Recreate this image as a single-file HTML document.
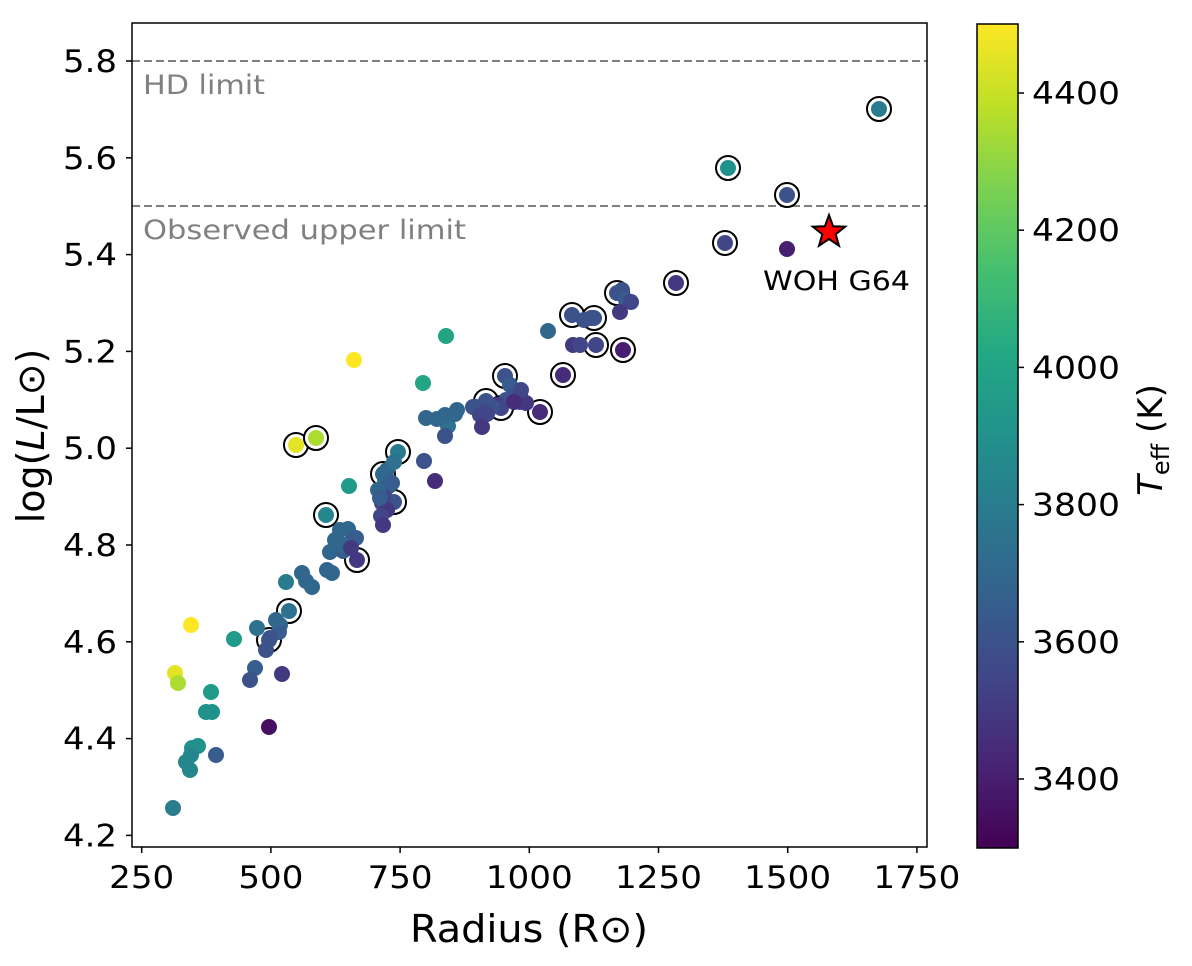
<!DOCTYPE html>
<html><head><meta charset="utf-8"><style>
body{margin:0;background:#fff;}
svg{display:block;font-family:"DejaVu Sans","Liberation Sans",sans-serif;}
</style></head><body>
<svg id="s" width="1192" height="966" viewBox="0 0 1192 966" xmlns="http://www.w3.org/2000/svg">
<defs>
<linearGradient id="vir" x1="0" y1="1" x2="0" y2="0">
<stop offset="0" stop-color="#440154"/><stop offset="0.1" stop-color="#482475"/><stop offset="0.2" stop-color="#414487"/><stop offset="0.3" stop-color="#355f8d"/><stop offset="0.4" stop-color="#2a788e"/><stop offset="0.5" stop-color="#21918c"/><stop offset="0.6" stop-color="#22a884"/><stop offset="0.7" stop-color="#44bf70"/><stop offset="0.8" stop-color="#7ad151"/><stop offset="0.9" stop-color="#bddf26"/><stop offset="1" stop-color="#fde725"/>
</linearGradient>
</defs>
<line x1="132" y1="61" x2="927" y2="61" stroke="#808080" stroke-width="2" stroke-dasharray="8,4"/>
<line x1="132" y1="206" x2="927" y2="206" stroke="#808080" stroke-width="2" stroke-dasharray="8,4"/>
<text x="143" y="94" font-size="27" fill="#808080" textLength="122" lengthAdjust="spacingAndGlyphs">HD limit</text>
<text x="143" y="239" font-size="27" fill="#808080" textLength="323" lengthAdjust="spacingAndGlyphs">Observed upper limit</text>
<g id="pts"></g>
<polygon id="star" fill="#ff0000" stroke="#000" stroke-width="2"/>
<text x="763" y="290" font-size="27" fill="#000" textLength="147" lengthAdjust="spacingAndGlyphs">WOH G64</text>
<rect x="132" y="23" width="795" height="824" fill="none" stroke="#000" stroke-width="1.5"/>
<g font-size="31" fill="#000" text-anchor="end" id="yt"></g>
<g font-size="31" fill="#000" text-anchor="middle" id="xt"></g>
<text x="410" y="942" font-size="38" textLength="238" lengthAdjust="spacingAndGlyphs">Radius (R⊙)</text>
<text transform="translate(44,436) rotate(-90)" font-size="38" text-anchor="middle">log(<tspan font-style="italic">L</tspan>/L⊙)</text>
<rect x="977" y="24" width="41" height="824" fill="url(#vir)" stroke="#000" stroke-width="1.5"/>
<g font-size="31" id="ct"></g>
<text transform="translate(1162,440) rotate(-90)" font-size="34" text-anchor="middle"><tspan font-style="italic">T</tspan><tspan font-size="24" dy="7">eff</tspan><tspan dy="-7"> (K)</tspan></text>
</svg>
<script>
var NS="http://www.w3.org/2000/svg";
var stops=["#440154","#482475","#414487","#355f8d","#2a788e","#21918c","#22a884","#44bf70","#7ad151","#bddf26","#fde725"];
function hx(c){return [parseInt(c.substr(1,2),16),parseInt(c.substr(3,2),16),parseInt(c.substr(5,2),16)];}
function vir(T){var t=(T-3300)/1200;t=Math.max(0,Math.min(1,t));var f=t*10,i=Math.min(9,Math.floor(f)),u=f-i;var a=hx(stops[i]),b=hx(stops[i+1]);return "rgb("+a.map(function(v,k){return Math.round(v+(b[k]-v)*u)}).join(",")+")";}
function el(n,a,p){var e=document.createElementNS(NS,n);for(var k in a)e.setAttribute(k,a[k]);p.appendChild(e);return e;}
var P=[
[879,109,3800,1],[728,168,3900,1],[787,195,3600,1],[725,243,3550,1],[787,249,3400,0],
[676,283,3500,1],[617,293,3600,1],[622,290,3600,0],[626,300,3650,0],[631,302,3550,0],[620,312,3500,0],
[572,315,3600,1],[584,320,3600,0],[591,318,3600,0],[594,318,3600,1],[548,331,3700,0],
[573,345,3500,0],[580,345,3550,0],[596,345,3550,1],[623,350,3400,1],[563,375,3450,1],
[505,376,3600,1],[510,385,3650,0],[514,395,3600,0],[520,395,3550,0],[506,400,3600,0],
[486,401,3600,1],[497,405,3500,0],[501,408,3550,1],[492,407,3600,0],[476,407,3600,0],[482,412,3550,0],[487,414,3550,0],[520,402,3550,0],[526,403,3500,0],[521,390,3550,0],[514,402,3450,0],[540,412,3450,1],
[473,407,3600,0],[480,415,3550,0],[482,427,3500,0],
[448,426,3750,0],[445,415,3700,0],[455,414,3700,0],[457,410,3700,0],[437,419,3700,0],[445,436,3600,0],[426,418,3700,0],
[446,336,4000,0],[423,383,4000,0],[354,360,4500,0],[296,445,4450,1],[316,438,4350,1],
[398,452,3800,1],[385,480,3750,0],[383,474,3700,1],[387,470,3700,0],[389,486,3650,0],[394,502,3600,1],[385,490,3600,0],[383,497,3550,0],[392,483,3650,0],[382,503,3550,0],[387,510,3500,0],
[378,490,3700,0],[380,498,3650,0],[381,516,3550,0],[383,525,3500,0],
[349,486,3950,0],[326,515,3850,1],[394,462,3750,0],[424,461,3600,0],[435,481,3450,0],
[348,529,3700,0],[340,530,3700,0],[352,541,3600,0],[356,538,3650,0],[335,540,3700,0],[330,552,3700,0],[343,551,3650,0],[344,545,3700,0],
[357,560,3500,1],[351,548,3500,0],[332,573,3700,0],[327,570,3700,0],[302,573,3700,0],[306,581,3700,0],[312,587,3700,0],
[286,582,3800,0],[289,611,3750,1],[280,625,3700,0],[279,632,3650,0],[276,620,3700,0],[270,638,3600,0],[266,650,3600,0],[282,674,3500,0],[269,640,3600,1],
[257,628,3750,0],[255,668,3650,0],[250,680,3600,0],[234,639,3950,0],[211,692,3950,0],[206,712,3900,0],[212,712,3900,0],
[269,727,3350,0],[198,746,3900,0],[192,748,3900,0],[191,755,3850,0],[186,762,3850,0],[190,770,3850,0],[216,755,3650,0],
[175,673,4450,0],[178,683,4350,0],[191,625,4500,0],[173,808,3800,0]];
var g=document.getElementById("pts");
P.forEach(function(p){if(p[3])el("circle",{cx:p[0],cy:p[1],r:12,fill:"#fff",stroke:"#000","stroke-width":2},g);});
P.forEach(function(p){el("circle",{cx:p[0],cy:p[1],r:8,fill:vir(p[2])},g);});
var pts=[],cx=829,cy=232,R=17,r=7;for(var i=0;i<10;i++){var a=-Math.PI/2+i*Math.PI/5,rr=i%2?r:R;pts.push((cx+rr*Math.cos(a)).toFixed(1)+","+(cy+rr*Math.sin(a)).toFixed(1));}
document.getElementById("star").setAttribute("points",pts.join(" "));
var yt=document.getElementById("yt");
for(var k=0;k<=8;k++){var v=4.2+k*0.2,y=61+(5.8-v)*484;el("line",{x1:126,y1:y,x2:132,y2:y,stroke:"#000","stroke-width":1.5},yt);var t=el("text",{x:117,y:y+11,textLength:54,lengthAdjust:"spacingAndGlyphs"},yt);t.textContent=v.toFixed(1);}
var xt=document.getElementById("xt");
for(var k=0;k<7;k++){var v=250+k*250,x=141.7+(v-250)*0.5168;el("line",{x1:x,y1:847,x2:x,y2:853,stroke:"#000","stroke-width":1.5},xt);var t=el("text",{x:x,y:888,textLength:(v>=1000?87:65),lengthAdjust:"spacingAndGlyphs"},xt);t.textContent=v;}
var ct=document.getElementById("ct");
for(var k=0;k<6;k++){var v=3400+k*200,y=779-k*137.2;el("line",{x1:1018,y1:y,x2:1024,y2:y,stroke:"#000","stroke-width":1.5},ct);var t=el("text",{x:1032,y:y+11,textLength:88,lengthAdjust:"spacingAndGlyphs"},ct);t.textContent=v;}
</script>
</body></html>
